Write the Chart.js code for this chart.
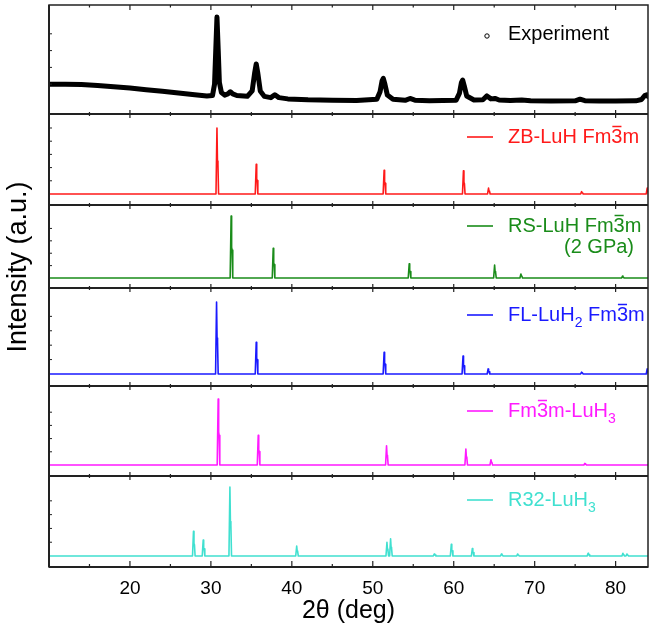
<!DOCTYPE html>
<html>
<head>
<meta charset="utf-8">
<script src="https://cdn.jsdelivr.net/npm/chart.js@4.4.0/dist/chart.umd.min.js"></script>
<style>
  html, body { margin: 0; padding: 0; background: #fff; }
  canvas { display: block; }
</style>
</head>
<body>
<canvas id="xrd" width="649" height="629"></canvas>
<script>
// x axis (2theta, deg)
const majorTicks = [20, 30, 40, 50, 60, 70, 80];
const minorTicks = [15, 25, 35, 45, 55, 65, 75];

const experiment = [
  [10, .2], [12, .2], [14, .195], [16, .185], [18, .17], [20, .155], [22, .135], [24, .115],
  [26, .095], [28, .075], [29.5, .06], [30.2, .065], [30.45, .2], [30.6, .6], [30.75, 1.0],
  [30.9, .62], [31.05, .22], [31.3, .1], [31.7, .07], [32.1, .085], [32.4, .11], [32.7, .085],
  [33.2, .065], [34.5, .055], [35.1, .12], [35.4, .33], [35.6, .44], [35.8, .33], [36.1, .12],
  [36.6, .055], [37.4, .04], [37.9, .075], [38.4, .04], [39.5, .025], [42, .015], [45, .01],
  [48, .006], [50.5, .02], [50.9, .11], [51.15, .24], [51.3, .27], [51.5, .2], [51.8, .07],
  [52.5, .02], [54, .008], [54.6, .03], [55.2, .01], [57, .004], [60.3, .01], [60.7, .09],
  [60.95, .22], [61.1, .25], [61.3, .18], [61.6, .06], [62.5, .012], [63.6, .015], [64.1, .06],
  [64.6, .025], [65.1, .03], [65.6, .012], [67, .006], [68.4, .012], [69.5, .004], [72, 0],
  [75, .002], [75.6, .022], [76.2, .004], [78, 0], [80, 0], [82.5, .002], [83.2, .018],
  [83.6, .065], [83.85, .075], [84, .055]
];

// calculated patterns: peak positions and relative heights
const zbPos = [30.75, 35.6, 51.4, 61.2, 64.3, 75.8, 83.9];
const zbInt = [1, 0.45, 0.36, 0.35, 0.09, 0.035, 0.09];

const rsPos = [32.5, 37.7, 54.5, 65.05, 68.3, 80.85];
const rsInt = [1, 0.48, 0.23, 0.21, 0.065, 0.03];

const flPos = [30.7, 35.6, 51.4, 61.15, 64.25, 75.8, 83.9];
const flInt = [1, 0.44, 0.3, 0.25, 0.07, 0.025, 0.07];

const fmPos = [30.9, 35.85, 51.7, 61.5, 64.6, 76.2, 84.2];
const fmInt = [1, 0.45, 0.29, 0.24, 0.08, 0.025, 0.08];

const r32Pos = [27.85, 29.05, 32.35, 40.6, 51.75, 52.2, 57.6, 59.7, 62.3, 65.9, 67.9, 76.6, 80.9, 81.4];
const r32Int = [0.36, 0.23, 1, 0.145, 0.2, 0.25, 0.03, 0.17, 0.11, 0.03, 0.03, 0.04, 0.04, 0.03];

// a stick pattern drawn as narrow spikes with a small K-alpha2 shoulder
function sticks(pos, h) {
  const pts = [[10, 0]];
  pos.forEach((p, i) => {
    pts.push([p - 0.12, 0], [p, h[i]], [p + 0.06, h[i] * 0.5], [p + 0.12, h[i] * 0.45], [p + 0.2, 0]);
  });
  pts.push([84, 0]);
  return pts;
}

const FONT = "'Liberation Sans', Arial, Helvetica, sans-serif";

// panels from top to bottom
const panels = [
  { id: 'yExp', color: '#000000', data: experiment, width: 5, h: 109, min: -0.155, max: 1.143, dy: 29,
    label: [['Experiment']], marker: true },
  { id: 'yZB', color: '#ff1a1a', data: sticks(zbPos, zbInt), width: 1.6, h: 91, min: -0.167, max: 1.212, dy: 23,
    label: [['ZB-LuH Fm'], ['3', 'bar'], ['m']] },
  { id: 'yRS', color: '#1a8c1a', data: sticks(rsPos, rsInt), width: 1.6, h: 83, min: -0.161, max: 1.178, dy: 21,
    label: [['RS-LuH Fm'], ['3', 'bar'], ['m']], second: '(2 GPa)' },
  { id: 'yFL', color: '#1a1aff', data: sticks(flPos, flInt), width: 1.6, h: 98, min: -0.167, max: 1.194, dy: 27,
    label: [['FL-LuH'], ['2', 'sub'], [' Fm'], ['3', 'bar'], ['m']] },
  { id: 'yFm', color: '#ff1aff', data: sticks(fmPos, fmInt), width: 1.6, h: 90, min: -0.167, max: 1.197, dy: 25,
    label: [['Fm'], ['3', 'bar'], ['m-LuH'], ['3', 'sub']] },
  { id: 'yR32', color: '#40e0d0', data: sticks(r32Pos, r32Int), width: 1.6, h: 91, min: -0.159, max: 1.16, dy: 24,
    label: [['R32-LuH'], ['3', 'sub']] }
];

const scales = {
  x: {
    type: 'linear',
    min: 10,
    max: 84,
    afterBuildTicks: (s) => { s.ticks = majorTicks.map(v => ({ value: v })); },
    afterFit: (s) => { s.height = 62; },
    grid: { display: false, drawTicks: false },
    border: { display: false },
    ticks: { color: '#000', font: { size: 19, family: FONT }, padding: 10, maxRotation: 0 },
    title: { display: true, text: '2θ (deg)', color: '#000', font: { size: 25, family: FONT },
      padding: { top: 2, bottom: 3 } }
  }
};
panels.forEach((p, i) => {
  scales[p.id] = {
    type: 'linear',
    position: 'left',
    stack: 'panels',
    stackWeight: p.h,
    weight: panels.length - i,
    min: p.min,
    max: p.max,
    ticks: { display: false, stepSize: 0.2 },
    grid: { display: false, drawTicks: false },
    border: { display: false },
    afterFit: (s) => { s.width = 0; }
  };
});

function drawRich(ctx, segs, x, y, color) {
  ctx.fillStyle = color;
  ctx.strokeStyle = color;
  ctx.textBaseline = 'middle';
  ctx.textAlign = 'left';
  let cx = x;
  segs.forEach(([t, kind]) => {
    if (kind === 'sub') {
      ctx.font = '14px ' + FONT;
      ctx.fillText(t, cx, y + 8);
    } else {
      ctx.font = '20px ' + FONT;
      ctx.fillText(t, cx, y);
    }
    const w = ctx.measureText(t).width;
    if (kind === 'bar') {
      ctx.lineWidth = 1.5;
      ctx.beginPath();
      ctx.moveTo(cx + 1, y - 10.5);
      ctx.lineTo(cx + w - 1, y - 10.5);
      ctx.stroke();
    }
    cx += w;
  });
}

const framePlugin = {
  id: 'frame',
  afterDraw(chart) {
    const { ctx, chartArea: a } = chart;
    const xs = chart.scales.x;
    ctx.save();

    // x ticks along a horizontal line
    const xTicks = (y, up, down, len) => {
      ctx.beginPath();
      majorTicks.forEach(v => {
        const px = xs.getPixelForValue(v);
        ctx.moveTo(px, y - up * len);
        ctx.lineTo(px, y + down * len);
      });
      minorTicks.forEach(v => {
        const px = xs.getPixelForValue(v);
        ctx.moveTo(px, y - up * len * 0.5);
        ctx.lineTo(px, y + down * len * 0.5);
      });
      ctx.stroke();
    };

    ctx.strokeStyle = '#222';
    ctx.lineWidth = 1.2;

    // separators with ticks on both sides
    panels.forEach((p, i) => {
      const s = chart.scales[p.id];
      // left border minor ticks
      ctx.lineWidth = 1;
      ctx.beginPath();
      s.ticks.forEach(t => {
        const py = s.getPixelForValue(t.value);
        if (py > s.top + 3 && py < s.bottom - 3) {
          ctx.moveTo(a.left, py);
          ctx.lineTo(a.left + 3, py);
        }
      });
      ctx.stroke();
      if (i < panels.length - 1) {
        ctx.lineWidth = 2;
        ctx.beginPath();
        ctx.moveTo(a.left, s.bottom);
        ctx.lineTo(a.right, s.bottom);
        ctx.stroke();
        ctx.lineWidth = 1.2;
        xTicks(s.bottom, 1, 1, 4);
      }
    });

    // outer frame
    ctx.lineWidth = 1.5;
    ctx.strokeRect(a.left, a.top, a.right - a.left, a.bottom - a.top);
    ctx.lineWidth = 2;
    ctx.beginPath();
    ctx.moveTo(a.left, a.top);
    ctx.lineTo(a.left, a.bottom);
    ctx.moveTo(a.left, a.bottom);
    ctx.lineTo(a.right, a.bottom);
    ctx.stroke();
    ctx.lineWidth = 1.2;
    xTicks(a.top, 0, 1, 5);
    xTicks(a.bottom, 1, 0, 6);

    // per-panel legends
    panels.forEach(p => {
      const s = chart.scales[p.id];
      const y = s.top + p.dy;
      const tx = a.right - 140;
      if (p.marker) {
        ctx.strokeStyle = '#000';
        ctx.lineWidth = 1;
        ctx.beginPath();
        ctx.arc(a.right - 161, y + 2, 2.2, 0, Math.PI * 2);
        ctx.stroke();
      } else {
        ctx.strokeStyle = p.color;
        ctx.lineWidth = 1.6;
        ctx.beginPath();
        ctx.moveTo(a.right - 181, y);
        ctx.lineTo(a.right - 155, y);
        ctx.stroke();
      }
      drawRich(ctx, p.label, tx, y, p.color);
      if (p.second) {
        drawRich(ctx, [[p.second]], a.right - 84, y + 21, p.color);
      }
    });

    // y axis title
    ctx.fillStyle = '#000';
    ctx.font = '27px ' + FONT;
    ctx.textAlign = 'center';
    ctx.textBaseline = 'middle';
    ctx.translate(19, 267);
    ctx.rotate(-Math.PI / 2);
    ctx.fillText('Intensity (a.u.)', 0, 0);
    ctx.restore();
  }
};

new Chart(document.getElementById('xrd'), {
  type: 'line',
  data: {
    datasets: panels.map(p => ({
      data: p.data,
      yAxisID: p.id,
      borderColor: p.color,
      borderWidth: p.width,
      pointRadius: 0,
      tension: 0,
      fill: false,
      borderJoinStyle: 'round',
      borderCapStyle: 'round'
    }))
  },
  options: {
    responsive: false,
    animation: false,
    devicePixelRatio: 1,
    layout: { padding: { left: 49, right: 1, top: 5, bottom: 0 } },
    plugins: { legend: { display: false }, tooltip: { enabled: false } },
    scales: scales
  },
  plugins: [framePlugin]
});
</script>
</body>
</html>
